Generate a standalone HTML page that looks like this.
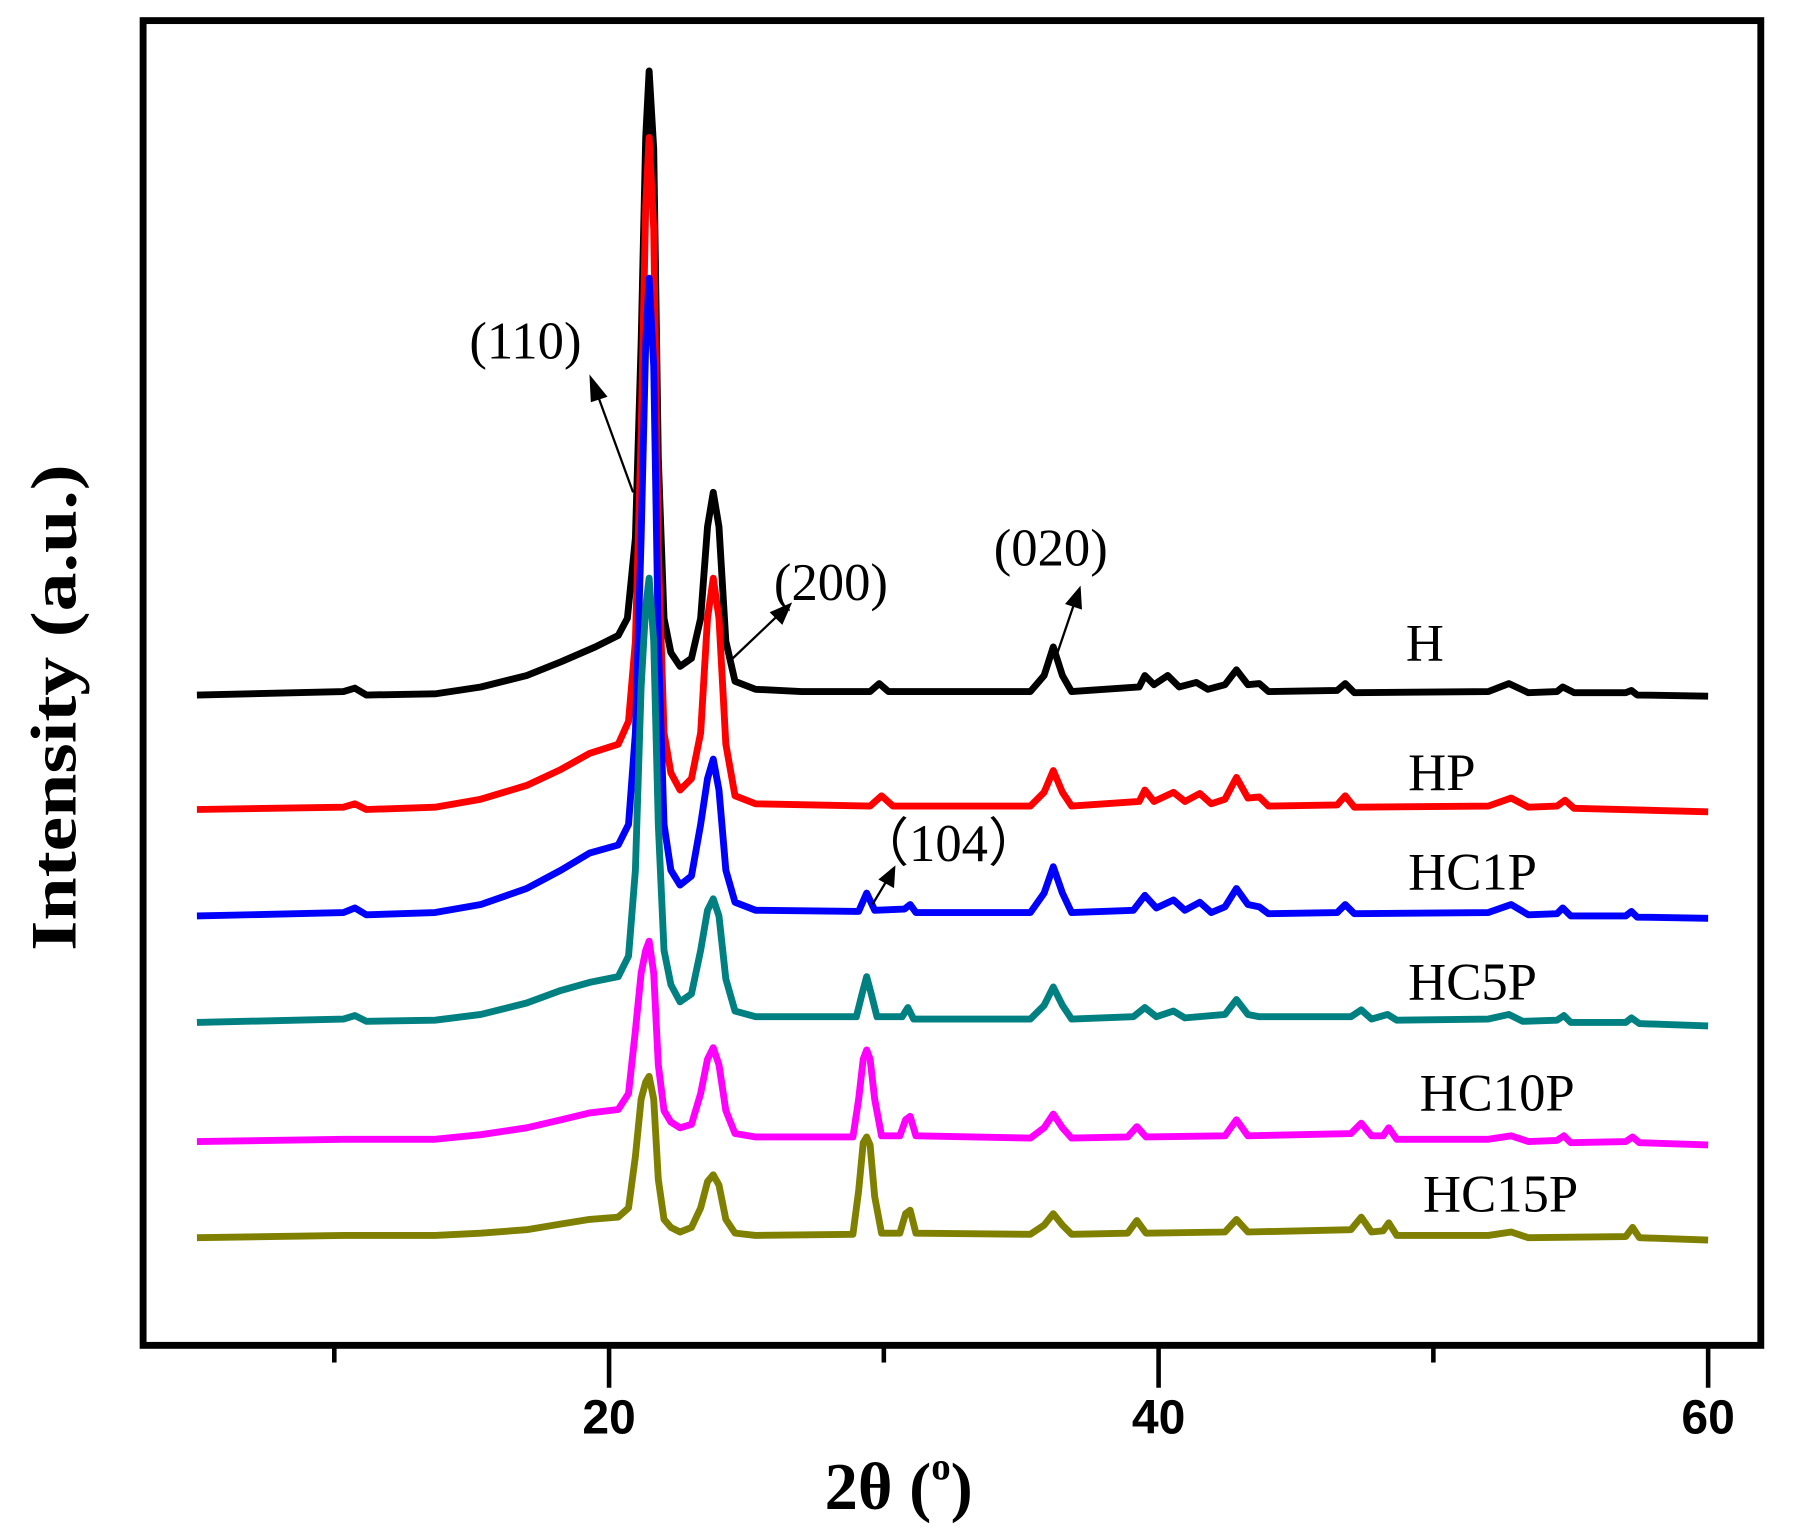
<!DOCTYPE html>
<html><head><meta charset="utf-8"><style>
html,body{margin:0;padding:0;background:#fff}
svg{display:block}
.s{font-family:"Liberation Serif",serif;fill:#000}
</style></head><body>
<svg width="1794" height="1540" viewBox="0 0 1567 1345" preserveAspectRatio="none" xmlns="http://www.w3.org/2000/svg">
<rect x="0" y="0" width="1567" height="1345" fill="#fff"/>
<g fill="none" stroke-width="6" stroke-linejoin="round">
<path stroke="#000" d="M172 607 L300 604 L310 601 L320 607 L380 606 L420 600 L460 590 L490 578 L520 565 L540 555 L548 540 L555 470 L560 300 L564 120 L567 62 L571 130 L575 400 L580 540 L586 570 L594 582 L604 575 L612 540 L618 460 L623 430 L628 460 L634 560 L642 595 L660 602 L700 604 L760 604 L768 597 L776 604 L900 604 L912 590 L920 565 L928 590 L936 604 L995 600 L1000 590 L1008 598 L1020 590 L1030 600 L1045 596 L1055 602 L1070 598 L1080 585 L1090 598 L1100 597 L1108 604 L1168 603 L1175 597 L1183 605 L1300 604 L1318 597 L1335 605 L1360 604 L1365 600 L1375 605 L1420 605 L1425 603 L1430 607 L1492 608"/>
<path stroke="#f00" d="M172 707 L300 705 L310 702 L320 707 L380 705 L420 698 L460 686 L490 672 L515 658 L540 650 L549 630 L555 560 L560 380 L564 180 L567 120 L571 200 L575 480 L580 640 L586 675 L594 690 L604 680 L612 640 L618 540 L623 505 L628 540 L634 650 L642 695 L660 702 L760 704 L770 695 L780 704 L900 704 L912 692 L920 673 L928 692 L936 704 L995 700 L1000 690 L1008 700 L1025 692 L1035 700 L1048 693 L1058 702 L1070 698 L1080 679 L1090 697 L1100 696 L1108 704 L1168 703 L1175 695 L1183 705 L1300 704 L1320 697 L1335 705 L1360 704 L1367 699 L1375 706 L1492 709"/>
<path stroke="#00f" d="M172 800 L300 797 L310 793 L320 799 L380 797 L420 790 L460 776 L490 760 L515 745 L540 738 L549 720 L555 640 L560 470 L564 300 L567 243 L571 320 L575 560 L580 720 L586 760 L594 773 L604 765 L612 720 L618 680 L623 663 L628 690 L634 760 L642 788 L660 795 L750 796 L757 780 L764 795 L790 794 L795 790 L800 797 L900 797 L912 780 L920 757 L928 780 L936 797 L990 795 L1000 782 L1010 793 L1025 786 L1035 795 L1048 788 L1058 797 L1070 792 L1080 776 L1090 790 L1100 792 L1108 798 L1168 797 L1175 790 L1183 798 L1300 797 L1320 790 L1335 799 L1360 798 L1365 793 L1372 800 L1420 800 L1425 796 L1430 801 L1492 802"/>
<path stroke="#008080" d="M172 893 L300 890 L310 887 L320 892 L380 891 L420 886 L460 876 L490 865 L515 858 L540 853 L549 835 L555 760 L560 600 L564 530 L567 505 L571 560 L575 720 L580 830 L586 860 L594 875 L604 868 L612 830 L618 795 L623 785 L628 800 L634 855 L642 883 L660 888 L748 888 L753 868 L757 853 L761 868 L766 888 L788 888 L793 880 L798 890 L900 890 L912 878 L920 862 L928 878 L936 890 L990 888 L1000 880 L1010 888 L1025 883 L1035 889 L1070 886 L1080 873 L1090 886 L1100 888 L1180 888 L1189 882 L1198 890 L1212 886 L1220 891 L1300 890 L1318 886 L1330 892 L1360 891 L1366 887 L1372 893 L1420 893 L1425 889 L1432 894 L1492 896"/>
<path stroke="#f0f" d="M172 997 L300 995 L380 995 L420 991 L460 985 L490 978 L515 972 L540 969 L549 955 L555 900 L560 850 L564 830 L567 822 L571 850 L575 930 L580 970 L586 980 L594 985 L604 982 L612 955 L618 925 L623 915 L628 930 L634 970 L642 990 L660 993 L745 993 L750 960 L754 925 L757 917 L760 925 L764 960 L770 992 L786 992 L791 978 L795 975 L800 992 L900 994 L912 985 L920 973 L928 985 L936 994 L985 993 L993 984 L1001 993 L1070 992 L1080 978 L1090 992 L1180 990 L1189 981 L1198 992 L1208 992 L1213 985 L1220 995 L1300 995 L1320 992 L1335 997 L1360 996 L1366 992 L1372 998 L1420 997 L1426 993 L1432 998 L1492 1000"/>
<path stroke="#808000" d="M172 1081 L300 1079 L380 1079 L420 1077 L460 1074 L490 1069 L515 1065 L540 1063 L549 1055 L555 1010 L560 960 L564 945 L567 940 L571 960 L575 1030 L580 1065 L586 1072 L594 1076 L604 1072 L612 1055 L618 1032 L623 1026 L628 1035 L634 1065 L642 1077 L660 1079 L745 1078 L750 1040 L754 998 L757 993 L760 1000 L764 1045 L770 1077 L786 1077 L791 1060 L795 1057 L800 1077 L900 1078 L912 1070 L920 1060 L928 1070 L936 1078 L985 1077 L993 1066 L1001 1077 L1070 1076 L1080 1065 L1090 1076 L1180 1074 L1189 1063 L1198 1076 L1208 1075 L1213 1068 L1220 1079 L1300 1079 L1320 1076 L1335 1081 L1420 1080 L1426 1072 L1432 1081 L1492 1083"/>
</g>
<rect x="125" y="18" width="1413" height="1157" fill="none" stroke="#000" stroke-width="6"/>
<g stroke="#000" stroke-width="4">
<line x1="292" y1="1175" x2="292" y2="1190"/><line x1="532" y1="1175" x2="532" y2="1212"/>
<line x1="772" y1="1175" x2="772" y2="1190"/><line x1="1012" y1="1175" x2="1012" y2="1212"/>
<line x1="1252" y1="1175" x2="1252" y2="1190"/><line x1="1492" y1="1175" x2="1492" y2="1212"/>
</g>
<g font-family="Liberation Sans,sans-serif" font-weight="bold" font-size="42" text-anchor="middle">
<text x="532" y="1252">20</text><text x="1012" y="1252">40</text><text x="1492" y="1252">60</text>
</g>
<text class="s" x="785" y="1318" font-size="58" font-weight="bold" text-anchor="middle">2θ (<tspan font-size="34" dy="-26">o</tspan><tspan dy="26">)</tspan></text>
<text class="s" transform="translate(66,618) rotate(-90)" font-size="56" font-weight="bold" text-anchor="middle" textLength="425" lengthAdjust="spacingAndGlyphs">Intensity (a.u.)</text>
<g class="s" font-size="46">
<text x="410" y="313">(110)</text>
<text x="676" y="524">(200)</text>
<text x="868" y="494">(020)</text>
<text x="748" y="752">（104）</text>
<text x="1228" y="577">H</text>
<text x="1230" y="690">HP</text>
<text x="1230" y="777">HC1P</text>
<text x="1230" y="873">HC5P</text>
<text x="1240" y="970">HC10P</text>
<text x="1243" y="1058">HC15P</text>
</g>
<g stroke="#000" stroke-width="2" fill="#000">
<line x1="553" y1="430" x2="522" y2="345"/><polygon points="516,330 529,346 517,350"/>
<line x1="640" y1="575" x2="680" y2="537"/><polygon points="690,528 683,544 674,535"/>
<line x1="922" y1="575" x2="938" y2="528"/><polygon points="943,514 944,531 932,527"/>
<line x1="762" y1="790" x2="774" y2="770"/><polygon points="781,758 780,774 769,768"/>
</g>
</svg>
</body></html>
